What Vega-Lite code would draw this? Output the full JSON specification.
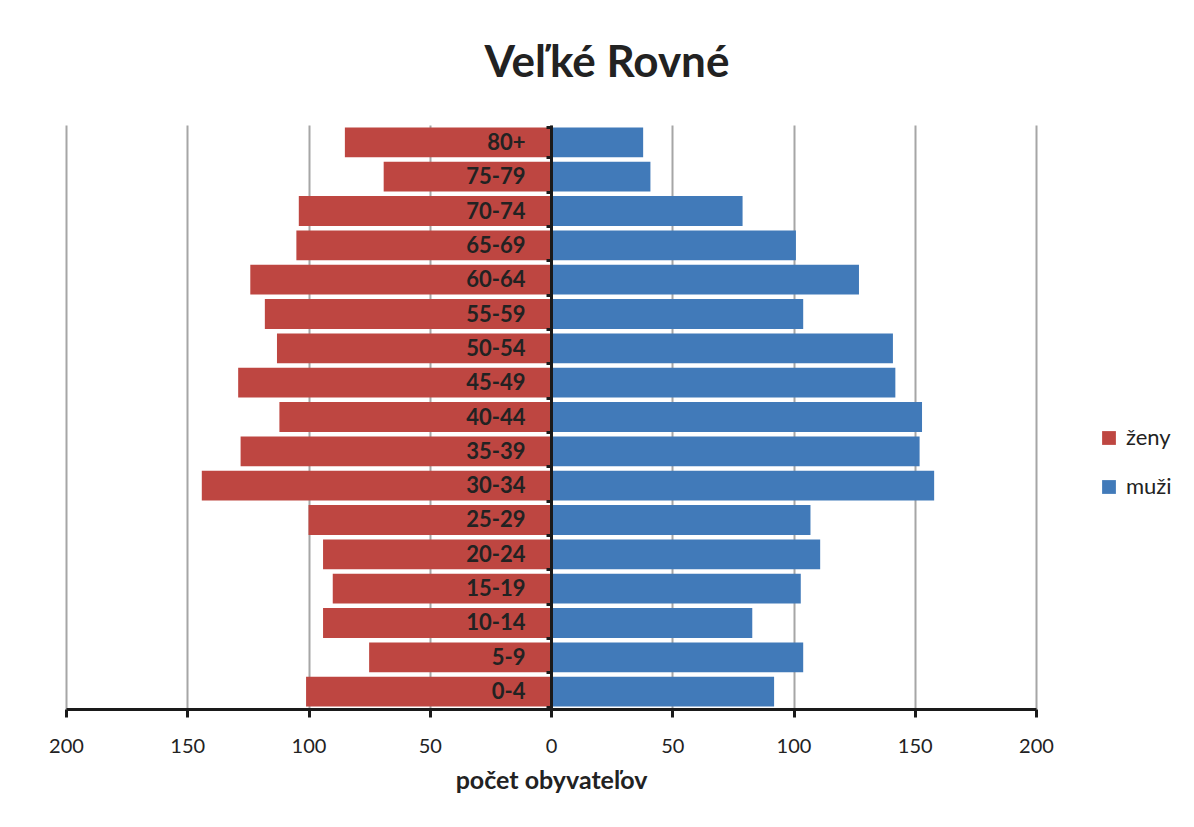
{
  "$schema": "https://vega.github.io/schema/vega-lite/v6.json",
  "width": 970,
  "height": 584,
  "padding": {"left": 48, "top": 42, "right": 5, "bottom": 5},
  "background": "white",
  "title": {
    "text": "Veľké Rovné",
    "font": "Lato",
    "fontSize": 44,
    "fontWeight": "bold",
    "color": "#222222",
    "offset": 28,
    "anchor": "middle",
    "dx": 56
  },
  "data": {
    "values": [
      {"vek": "80+", "pohlavie": "ženy", "pocet": -85},
      {"vek": "75-79", "pohlavie": "ženy", "pocet": -69},
      {"vek": "70-74", "pohlavie": "ženy", "pocet": -104},
      {"vek": "65-69", "pohlavie": "ženy", "pocet": -105},
      {"vek": "60-64", "pohlavie": "ženy", "pocet": -124},
      {"vek": "55-59", "pohlavie": "ženy", "pocet": -118},
      {"vek": "50-54", "pohlavie": "ženy", "pocet": -113},
      {"vek": "45-49", "pohlavie": "ženy", "pocet": -129},
      {"vek": "40-44", "pohlavie": "ženy", "pocet": -112},
      {"vek": "35-39", "pohlavie": "ženy", "pocet": -128},
      {"vek": "30-34", "pohlavie": "ženy", "pocet": -144},
      {"vek": "25-29", "pohlavie": "ženy", "pocet": -100},
      {"vek": "20-24", "pohlavie": "ženy", "pocet": -94},
      {"vek": "15-19", "pohlavie": "ženy", "pocet": -90},
      {"vek": "10-14", "pohlavie": "ženy", "pocet": -94},
      {"vek": "5-9", "pohlavie": "ženy", "pocet": -75},
      {"vek": "0-4", "pohlavie": "ženy", "pocet": -101},
      {"vek": "80+", "pohlavie": "muži", "pocet": 38},
      {"vek": "75-79", "pohlavie": "muži", "pocet": 41},
      {"vek": "70-74", "pohlavie": "muži", "pocet": 79},
      {"vek": "65-69", "pohlavie": "muži", "pocet": 101},
      {"vek": "60-64", "pohlavie": "muži", "pocet": 127},
      {"vek": "55-59", "pohlavie": "muži", "pocet": 104},
      {"vek": "50-54", "pohlavie": "muži", "pocet": 141},
      {"vek": "45-49", "pohlavie": "muži", "pocet": 142},
      {"vek": "40-44", "pohlavie": "muži", "pocet": 153},
      {"vek": "35-39", "pohlavie": "muži", "pocet": 152},
      {"vek": "30-34", "pohlavie": "muži", "pocet": 158},
      {"vek": "25-29", "pohlavie": "muži", "pocet": 107},
      {"vek": "20-24", "pohlavie": "muži", "pocet": 111},
      {"vek": "15-19", "pohlavie": "muži", "pocet": 103},
      {"vek": "10-14", "pohlavie": "muži", "pocet": 83},
      {"vek": "5-9", "pohlavie": "muži", "pocet": 104},
      {"vek": "0-4", "pohlavie": "muži", "pocet": 92}
    ]
  },
  "mark": {"type": "bar"},
  "encoding": {
    "y": {
      "field": "vek",
      "type": "nominal",
      "sort": ["80+", "75-79", "70-74", "65-69", "60-64", "55-59", "50-54", "45-49", "40-44", "35-39", "30-34", "25-29", "20-24", "15-19", "10-14", "5-9", "0-4"],
      "scale": {"paddingInner": 0.13, "paddingOuter": 0.07},
      "axis": {
        "title": null,
        "offset": -485,
        "zindex": 2,
        "domainColor": "#1a1a1a",
        "domainWidth": 3,
        "ticks": true,
        "tickBand": "extent",
        "tickSize": 5,
        "tickWidth": 3,
        "tickColor": "#1a1a1a",
        "labelFont": "Lato",
        "labelFontSize": 22,
        "labelFontWeight": "bold",
        "labelColor": "#222222",
        "labelPadding": 21,
        "grid": false
      }
    },
    "x": {
      "field": "pocet",
      "type": "quantitative",
      "scale": {"domain": [-200, 200], "nice": false},
      "axis": {
        "title": "počet obyvateľov",
        "titleFont": "Lato",
        "titleFontSize": 25,
        "titleFontWeight": "bold",
        "titleColor": "#222222",
        "titlePadding": 12,
        "values": [-200, -150, -100, -50, 0, 50, 100, 150, 200],
        "labelExpr": "abs(datum.value)",
        "labelFlush": false,
        "labelFont": "Lato",
        "labelFontSize": 20,
        "labelColor": "#222222",
        "labelPadding": 19,
        "domainColor": "#1a1a1a",
        "domainWidth": 3,
        "tickColor": "#1a1a1a",
        "tickWidth": 3,
        "tickSize": 8,
        "grid": true,
        "gridColor": "#a6a6a6",
        "gridWidth": 2,
        "zindex": 0
      }
    },
    "color": {
      "field": "pohlavie",
      "type": "nominal",
      "scale": {"domain": ["ženy", "muži"], "range": ["#BE4641", "#417AB9"]},
      "legend": {
        "title": null,
        "orient": "none",
        "legendX": 1032,
        "legendY": 302,
        "symbolType": "square",
        "symbolSize": 190,
        "symbolStrokeWidth": 0,
        "labelFont": "Lato",
        "labelFontSize": 22,
        "labelColor": "#222222",
        "rowPadding": 27,
        "labelOffset": 6
      }
    }
  },
  "config": {
    "view": {"stroke": null},
    "axis": {"gridDash": []}
  }
}
